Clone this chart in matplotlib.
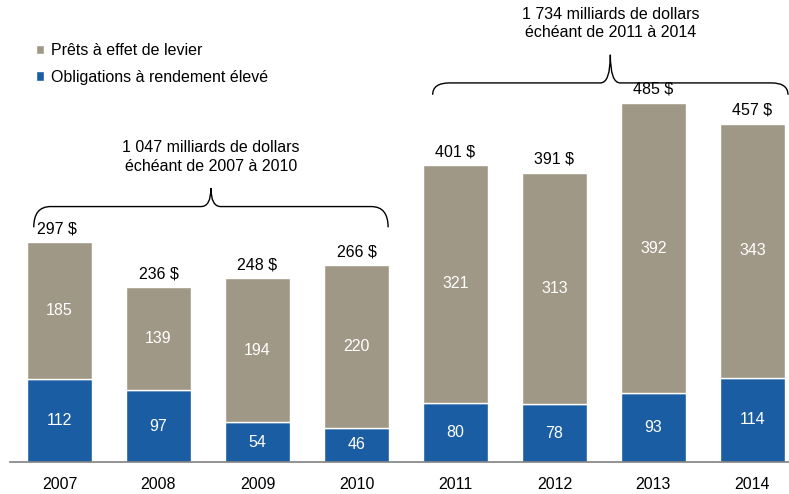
import matplotlib.pyplot as plt
from matplotlib.path import Path
from matplotlib.patches import PathPatch

plt.rcParams["font.family"] = ["Liberation Sans", "DejaVu Sans"]

years = ["2007", "2008", "2009", "2010", "2011", "2012", "2013", "2014"]
bonds = [112, 97, 54, 46, 80, 78, 93, 114]
loans = [185, 139, 194, 220, 321, 313, 392, 343]
totals = [297, 236, 248, 266, 401, 391, 485, 457]

GRAY = "#a09886"
BLUE = "#1a5da3"


def brace(ax, x0, x1, y_end, y_mid, y_tip, rx=0.17, rx_tip=0.1):
    # curly brace drawn in data coordinates, opening downwards
    xm = (x0 + x1) / 2
    verts = [
        (x0, y_end), (x0, y_mid), (x0 + rx, y_mid),
        (xm - rx_tip, y_mid),
        (xm, y_mid), (xm, y_tip),
        (xm, y_mid), (xm + rx_tip, y_mid),
        (x1 - rx, y_mid),
        (x1, y_mid), (x1, y_end),
    ]
    codes = [
        Path.MOVETO, Path.CURVE3, Path.CURVE3,
        Path.LINETO,
        Path.CURVE3, Path.CURVE3,
        Path.CURVE3, Path.CURVE3,
        Path.LINETO,
        Path.CURVE3, Path.CURVE3,
    ]
    ax.add_patch(PathPatch(Path(verts, codes), fill=False, lw=1.0,
                           edgecolor="black", clip_on=False))


fig = plt.figure(figsize=(7.89, 4.94), dpi=100)
ax = fig.add_axes([10 / 789, 32 / 494, 779 / 789, 462 / 494])

x = list(range(len(years)))
b1 = ax.bar(x, bonds, width=0.66, color=BLUE, edgecolor="white", linewidth=1,
            label="Obligations à rendement élevé")
b2 = ax.bar(x, loans, width=0.66, bottom=bonds, color=GRAY, edgecolor="white",
            linewidth=1, label="Prêts à effet de levier")

for i in x:
    ax.text(i, bonds[i] / 2, str(bonds[i]), color="white", ha="center",
            va="center", fontsize=11.5)
    ax.text(i, bonds[i] + loans[i] / 2, str(loans[i]), color="white",
            ha="center", va="center", fontsize=11.5)
    tx = i - 0.03 if i == 0 else i
    ax.text(tx, totals[i] + 8, f"{totals[i]} $", ha="center", va="bottom",
            fontsize=11.5)

brace(ax, -0.26, 3.32, 317, 345, 370)
brace(ax, 3.77, 7.36, 496, 512, 550)
ax.text(1.53, 412, "1 047 milliards de dollars\néchéant de 2007 à 2010",
        ha="center", va="center", fontsize=11.5, linespacing=1.3)
ax.text(5.57, 592, "1 734 milliards de dollars\néchéant de 2011 à 2014",
        ha="center", va="center", fontsize=11.5, linespacing=1.3)

ax.set_xlim(-0.5, 7.37)
ax.set_ylim(0, 624)
ax.set_xticks(x)
ax.set_xticklabels(years, fontsize=11.5)
ax.tick_params(axis="x", length=0, pad=11)
ax.set_yticks([])
for side in ["top", "right", "left"]:
    ax.spines[side].set_visible(False)
ax.spines["bottom"].set_color("#808080")
ax.spines["bottom"].set_linewidth(1.2)

ax.legend(handles=[b2, b1], loc="upper left", bbox_to_anchor=(0.015, 0.937),
          frameon=False, fontsize=11.5, handlelength=0.5, handleheight=0.5,
          handletextpad=0.45, labelspacing=0.7)

fig.savefig("out.png", dpi=100)
